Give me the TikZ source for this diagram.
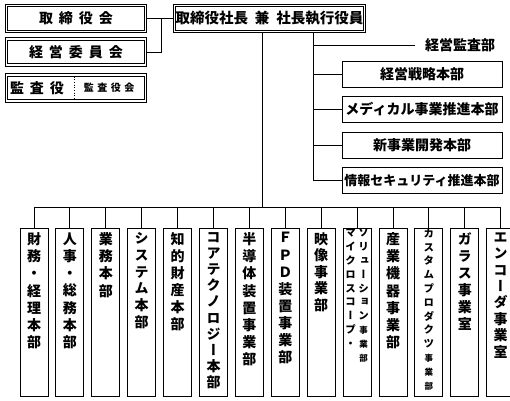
\documentclass[tikz,border=0pt]{standalone}
\usepackage{fontspec}
\setmainfont{Noto Sans CJK JP}
\newfontfamily\tatefont{Noto Sans CJK JP}[RawFeature=+vert]
\usetikzlibrary{positioning}

% one character per line, as in the division boxes
\newcommand{\tate}[2][17.2]{\parbox[c][168pt][t]{28pt}{\vspace*{4pt}\lineskiplimit=-\maxdimen\centering\tatefont\bfseries\fontsize{14}{#1}\selectfont #2}}
\newcommand{\tatesm}[1]{\parbox[c][168pt][t]{28pt}{\vspace*{0.5pt}\lineskiplimit=-\maxdimen\centering\tatefont\bfseries\fontsize{10.5}{13.8}\selectfont #1}}

\begin{document}
\begin{tikzpicture}[
		x=1pt, y=-1pt,
		font=\bfseries\fontsize{14}{16}\selectfont,
		% Double-framed boxes: board, committees, president
		dbl-box/.style={draw, double, double distance=1.6pt, line width=1pt, inner sep=0pt, minimum width=139pt, minimum height=26pt},
		% Staff departments on the right
		staffBox/.style={draw, line width=1pt, inner sep=0pt, minimum width=160pt, minimum height=26pt},
		% Upright division boxes along the bottom
		div box/.style={draw, line width=1pt, inner sep=0pt, anchor=north},
		% Connector lines
		link/.style={line width=1pt}
		]
		
		\fill[white] (0,0) rectangle (510,400);
		\useasboundingbox (0,0) rectangle (510,400);
		
		% ==============================================================================
		% BOARD AND COMMITTEES
		% ==============================================================================
		\node[dbl-box] (board) at (76, 18.5) {取\hspace{6pt}締\hspace{6pt}役\hspace{6pt}会};
		\node[dbl-box] (mgmt) at (76, 52) {経\hspace{6pt}営\hspace{6pt}委\hspace{6pt}員\hspace{6pt}会};
		\node[dbl-box] (audit) at (76, 88) {};
		\node[inner sep=2pt] (kansa) at (37, 88) {監\hspace{6pt}査\hspace{6pt}役};
		\node[inner sep=2pt, font=\bfseries\fontsize{10}{10}\selectfont] (kansakai) at (109, 88) {監\hspace{3.5pt}査\hspace{3.5pt}役\hspace{3.5pt}会};
		\path (kansa.east) -- (kansakai.west) coordinate[midway] (kdiv);
		\draw[dotted, line width=0.7pt, shorten <=2pt, shorten >=2pt] (kdiv |- audit.north) -- (kdiv |- audit.south);
		
		% ==============================================================================
		% PRESIDENT
		% ==============================================================================
		\node[dbl-box, minimum width=190pt, font=\bfseries\fontsize{14.5}{16}\selectfont] (pres) at (269.5, 18.5) {取締役社長\hspace{7pt}兼\hspace{7pt}社長執行役員};
		\coordinate (bj) at (161, 18.5);
		\draw[link] (board) -- (bj) -- (pres);
		\draw[link] (mgmt.east) -| (bj);
		
		% ==============================================================================
		% STAFF DEPARTMENTS
		% ==============================================================================
		\node[inner xsep=10pt, inner ysep=2pt] (kansabu) at (460, 45) {経営監査部};
		\node[staffBox] (strat) at (422, 74) {経営戦略本部};
		\node[staffBox, below=8.5pt of strat] (medical) {メディカル事業推進本部};
		\node[staffBox, below=8.5pt of medical] (newbiz) {新事業開発本部};
		\node[staffBox, below=8.5pt of newbiz, font=\bfseries\fontsize{13}{15}\selectfont] (infosec) {情報セキュリティ推進本部};
		
		\coordinate (sp) at (313, 45);
		\draw[link] (pres.south -| sp) |- (infosec.west);
		\draw[link] (sp) -- (kansabu.west);
		\draw[link] (strat.west -| sp) -- (strat.west);
		\draw[link] (medical.west -| sp) -- (medical.west);
		\draw[link] (newbiz.west -| sp) -- (newbiz.west);
		
		% ==============================================================================
		% DIVISIONS
		% ==============================================================================
		\node[div box] (div1) at (34, 228) {\tate{財\\務\\・\\経\\理\\本\\部}};
		\node[div box, right=6.9pt of div1] (div2) {\tate{人\\事\\・\\総\\務\\本\\部}};
		\node[div box, right=6.9pt of div2] (div3) {\tate{業\\務\\本\\部}};
		\node[div box, right=6.9pt of div3] (div4) {\tate[16.8]{シ\\ス\\テ\\ム\\本\\部}};
		\node[div box, right=6.9pt of div4] (div5) {\tate[17]{知\\的\\財\\産\\本\\部}};
		\node[div box, right=6.9pt of div5] (div6) {\tate[16.1]{コ\\ア\\テ\\ク\\ノ\\ロ\\ジ\\ー\\本\\部}};
		\node[div box, right=6.9pt of div6] (div7) {\tate{半\\導\\体\\装\\置\\事\\業\\部}};
		\node[div box, right=6.9pt of div7] (div8) {\tate[17.1]{Ｆ\\Ｐ\\Ｄ\\装\\置\\事\\業\\部}};
		\node[div box, right=6.9pt of div8] (div9) {\tate[16.5]{映\\像\\事\\業\\部}};
		\node[div box, right=6.9pt of div9] (div10) {\tatesm{%
				\parbox[t]{12pt}{\lineskiplimit=-\maxdimen\centering マ\\イ\\ク\\ロ\\ス\\コ\\ー\\プ\\・}\hspace{1pt}%
				\parbox[t]{12pt}{\lineskiplimit=-\maxdimen\centering ソ\\リ\\ュ\\ー\\シ\\ョ\\ン\\\fontsize{8.5}{13.8}\selectfont 事\\業\\部}}};
		\node[div box, right=6.9pt of div10] (div11) {\tate{産\\業\\機\\器\\事\\業\\部}};
		\node[div box, right=6.9pt of div11] (div12) {\tatesm{カ\\ス\\タ\\ム\\プ\\ロ\\ダ\\ク\\ツ\\\fontsize{8.5}{13.8}\selectfont 事\\業\\部}};
		\node[div box, right=6.9pt of div12] (div13) {\tate[17]{ガ\\ラ\\ス\\事\\業\\室}};
		\node[div box, right=6.9pt of div13] (div14) {\tate[16.4]{エ\\ン\\コ\\ー\\ダ\\事\\業\\室}};
		
		\coordinate (bus) at (262, 207);
		\draw[link] (pres.south -| bus) -- (bus);
		\draw[link] (div1.north |- bus) -- (div14.north |- bus);
		\draw[link] (div1.north) -- (div1.north |- bus);
		\draw[link] (div2.north) -- (div2.north |- bus);
		\draw[link] (div3.north) -- (div3.north |- bus);
		\draw[link] (div4.north) -- (div4.north |- bus);
		\draw[link] (div5.north) -- (div5.north |- bus);
		\draw[link] (div6.north) -- (div6.north |- bus);
		\draw[link] (div7.north) -- (div7.north |- bus);
		\draw[link] (div8.north) -- (div8.north |- bus);
		\draw[link] (div9.north) -- (div9.north |- bus);
		\draw[link] (div10.north) -- (div10.north |- bus);
		\draw[link] (div11.north) -- (div11.north |- bus);
		\draw[link] (div12.north) -- (div12.north |- bus);
		\draw[link] (div13.north) -- (div13.north |- bus);
		\draw[link] (div14.north) -- (div14.north |- bus);
		
\end{tikzpicture}
\end{document}
